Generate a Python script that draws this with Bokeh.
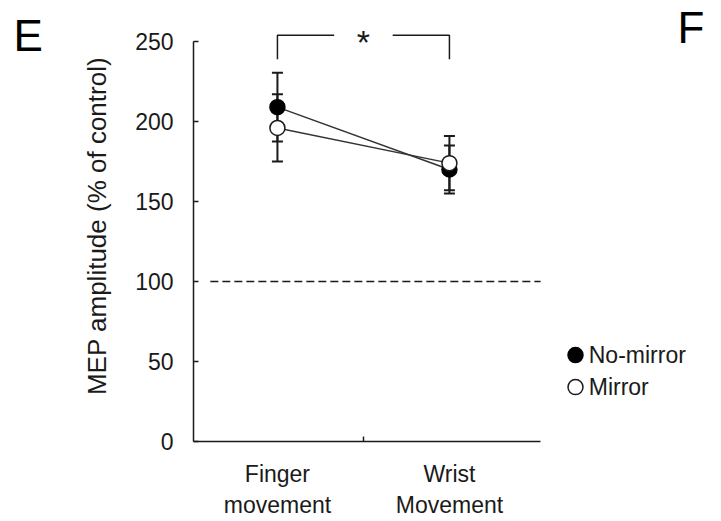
from bokeh.plotting import figure
from bokeh.layouts import row
from bokeh.models import Range1d, FixedTicker, Whisker, ColumnDataSource, TeeHead
from bokeh.embed import file_html
from bokeh.resources import INLINE
from bokeh.core.properties import value

# ---- data ----
categories = ["Finger\nmovement", "Wrist\nMovement"]
cat_x = [1, 2]
no_mirror = [209, 170]
no_mirror_err = [21.5, 15]
mirror = [196, 174]
mirror_err = [21, 17]
y_ticks = [0, 50, 100, 150, 200, 250]
control_level = 100
sig_level = 254
sig_drop = 239
series_names = ["No-mirror", "Mirror"]

FONT = "Liberation Sans"
INK = "#1a1a1a"
TOTAL_H = 517

# ---- panel letter "E" (separate canvas to the left, pixel-like ranges) ----
pe = figure(width=60, height=TOTAL_H, output_backend="svg", toolbar_location=None,
            x_range=Range1d(0, 60), y_range=Range1d(0, TOTAL_H),
            x_axis_type=None, y_axis_type=None, min_border=0)
pe.outline_line_color = None
pe.grid.visible = False
pe.text([13], [TOTAL_H - 30], text=["E"], text_font=value(FONT), text_font_size="44px",
        text_align="left", text_baseline="middle", text_color="black")

# ---- main chart ----
p = figure(frame_width=522, frame_height=431, output_backend="svg", toolbar_location=None,
           x_range=Range1d(0.512, 3.547), y_range=Range1d(0, 269.4),
           min_border_left=133, min_border_right=0, min_border_top=10, min_border_bottom=10)
p.outline_line_color = None
p.grid.visible = False

# y axis
ya = p.yaxis[0]
ya.ticker = FixedTicker(ticks=y_ticks)
ya.bounds = (0, 250)
ya.major_tick_in = 5
ya.major_tick_out = 0
ya.minor_tick_line_color = None
ya.axis_line_width = 1.5
ya.axis_line_color = INK
ya.major_tick_line_color = INK
ya.major_tick_line_width = 1.5
ya.major_label_text_font = FONT
ya.major_label_text_font_size = "23px"
ya.major_label_text_color = INK
ya.major_label_standoff = 20
ya.axis_label = "MEP amplitude (% of control)"
ya.axis_label_text_font = FONT
ya.axis_label_text_font_size = "26px"
ya.axis_label_text_font_style = "normal"
ya.axis_label_text_color = INK
ya.axis_label_standoff = 20

# x axis
xa = p.xaxis[0]
xa.ticker = FixedTicker(ticks=cat_x, minor_ticks=[1.5])
xa.major_label_overrides = {cat_x[i]: categories[i] for i in range(len(cat_x))}
xa.bounds = (0.512, 2.53)
xa.major_tick_in = 0
xa.major_tick_out = 0
xa.minor_tick_in = 5
xa.minor_tick_out = 0
xa.minor_tick_line_color = INK
xa.minor_tick_line_width = 1.5
xa.axis_line_width = 1.5
xa.axis_line_color = INK
xa.major_label_text_font = FONT
xa.major_label_text_font_size = "23px"
xa.major_label_text_color = INK
xa.major_label_standoff = 19

# control dashed line
p.line([0.61, 2.53], [control_level, control_level], line_color=INK, line_width=1.5, line_dash="8 4")

# connecting lines
p.line(cat_x, no_mirror, line_color="#333333", line_width=1.5)
p.line(cat_x, mirror, line_color="#333333", line_width=1.5)

# error bars
for vals, errs in ((no_mirror, no_mirror_err), (mirror, mirror_err)):
    src = ColumnDataSource(dict(x=cat_x,
                                upper=[v + e for v, e in zip(vals, errs)],
                                lower=[v - e for v, e in zip(vals, errs)]))
    w = Whisker(source=src, base="x", upper="upper", lower="lower", dimension="height",
                line_color=INK, line_width=2, level="underlay",
                upper_head=TeeHead(size=11, line_color=INK, line_width=2),
                lower_head=TeeHead(size=11, line_color=INK, line_width=2))
    p.add_layout(w)

# markers
p.scatter(cat_x, no_mirror, size=15, marker="circle", fill_color="black", line_color="black", line_width=1.5)
p.scatter(cat_x, mirror, size=15, marker="circle", fill_color="white", line_color=INK, line_width=1.5)

# significance bracket
p.line([cat_x[0], cat_x[0], 1.33], [sig_drop, sig_level, sig_level], line_color=INK, line_width=1.5)
p.line([1.67, cat_x[1], cat_x[1]], [sig_level, sig_level, sig_drop], line_color=INK, line_width=1.5)
p.text([1.5], [sig_level - 4], text=["*"], text_font=value(FONT), text_font_size="34px",
       text_align="center", text_baseline="middle", text_color=INK)

# legend (manual)
leg_y = [54, 34]
p.scatter([2.733], [leg_y[0]], size=15, marker="circle", fill_color="black", line_color="black", line_width=1.5)
p.scatter([2.733], [leg_y[1]], size=15, marker="circle", fill_color="white", line_color=INK, line_width=1.5)
p.text([2.81, 2.81], leg_y, text=series_names, text_font=value(FONT), text_font_size="23px",
       text_align="left", text_baseline="middle", text_color=INK)

# panel letter "F"
p.text([3.326], [258.8], text=["F"], text_font=value(FONT), text_font_size="44px",
       text_align="left", text_baseline="middle", text_color="black")

layout = row(pe, p, spacing=0)
open("out.html", "w").write(file_html(layout, INLINE))
